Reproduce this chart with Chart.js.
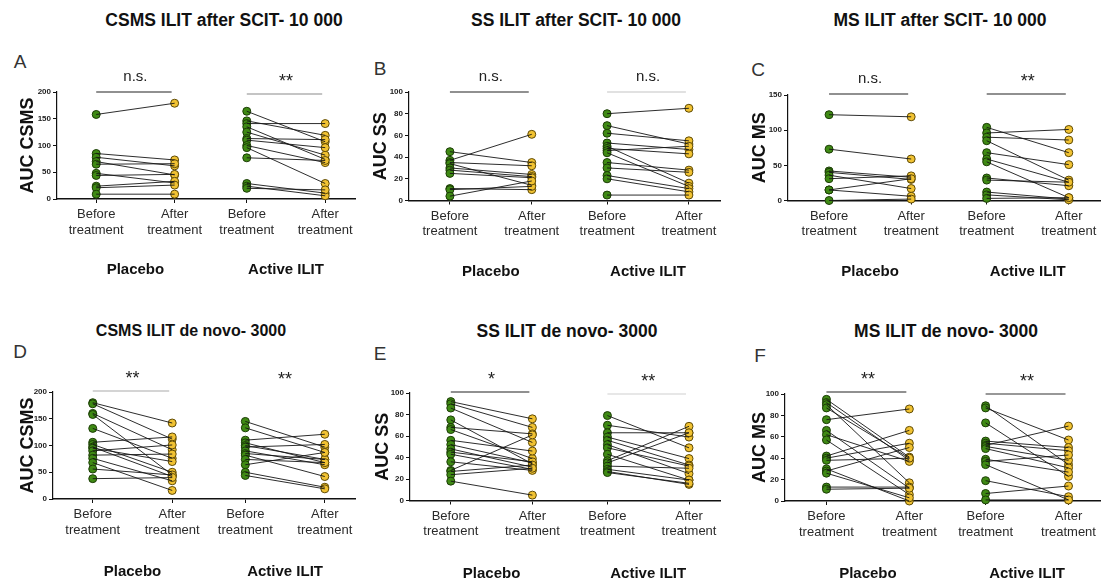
<!DOCTYPE html>
<html>
<head>
<meta charset="utf-8">
<script src="https://cdn.jsdelivr.net/npm/chart.js@4.4.1/dist/chart.umd.min.js"></script>
<style>
  body { margin:0; background:#fff; width:1104px; height:580px; position:relative; overflow:hidden;
         font-family:"Liberation Sans", Arial, sans-serif; }
  .title { position:absolute; font-weight:bold; font-size:17.5px; color:#111; transform:translate(-50%,-50%); white-space:nowrap; }
  .letter { position:absolute; font-size:19px; color:#333; transform:translate(-50%,-50%); }
  canvas { position:absolute; }
</style>
</head>
<body>
<div class="title" style="left:224px;top:20px">CSMS ILIT after SCIT- 10 000</div>
<div class="title" style="left:576px;top:20px">SS ILIT after SCIT- 10 000</div>
<div class="title" style="left:940px;top:20px">MS ILIT after SCIT- 10 000</div>
<div class="title" style="left:191px;top:331px;font-size:16px">CSMS ILIT de novo- 3000</div>
<div class="title" style="left:567px;top:331px">SS ILIT de novo- 3000</div>
<div class="title" style="left:946px;top:331px">MS ILIT de novo- 3000</div>
<div class="letter" style="left:20px;top:62px">A</div>
<div class="letter" style="left:380px;top:69px">B</div>
<div class="letter" style="left:758px;top:70px">C</div>
<div class="letter" style="left:20px;top:352px">D</div>
<div class="letter" style="left:380px;top:354px">E</div>
<div class="letter" style="left:760px;top:356px">F</div>

<script>
// Paired AUC values per patient: before / after treatment
const categories = [['Before', 'treatment'], ['After', 'treatment']];
const groups = ['Placebo', 'Active ILIT'];

// ILIT after SCIT, 10 000
const csmsScitPlaceboBefore = [158, 85, 78, 70, 65, 48, 44, 24, 21, 9];
const csmsScitPlaceboAfter  = [179, 73, 62, 45, 66, 30, 46, 33, 26, 9];
const csmsScitActiveBefore  = [164, 146, 141, 135, 125, 113, 110, 100, 96, 77, 29, 24, 20];
const csmsScitActiveAfter   = [107, 119, 141, 74, 82, 111, 96, 68, 29, 72, 11, 6, 17];

const ssScitPlaceboBefore = [45, 37, 35, 34, 30, 28, 25, 11, 10, 4];
const ssScitPlaceboAfter  = [35, 61, 32, 14, 24, 22, 21, 10, 13, 18];
const ssScitActiveBefore  = [80, 69, 62, 53, 50, 48, 46, 44, 35, 30, 23, 20, 5];
const ssScitActiveAfter   = [85, 52, 55, 47, 16, 43, 50, 13, 28, 26, 11, 8, 5];

const msScitPlaceboBefore = [122, 73, 42, 40, 36, 31, 15, 15, 0];
const msScitPlaceboAfter  = [119, 59, 33, 30, 17, 35, 6, 31, 2];
const msScitActiveBefore  = [104, 96, 90, 85, 68, 59, 55, 32, 29, 12, 8, 3];
const msScitActiveAfter   = [68, 101, 86, 29, 51, 26, 4, 21, 26, 2, 1, 4];

// ILIT de novo, 3000
const csmsNovoPlaceboBefore = [180, 178, 160, 158, 132, 106, 102, 97, 95, 90, 82, 76, 68, 56, 38];
const csmsNovoPlaceboAfter  = [142, 112, 92, 45, 76, 116, 50, 42, 70, 101, 84, 34, 16, 45, 40];
const csmsNovoActiveBefore  = [145, 133, 110, 105, 100, 97, 90, 85, 82, 74, 64, 50, 44];
const csmsNovoActiveAfter   = [97, 87, 121, 68, 74, 102, 64, 74, 42, 68, 87, 22, 19];

const ssNovoPlaceboBefore = [92, 90, 86, 75, 68, 66, 56, 52, 48, 45, 43, 36, 28, 27, 24, 18];
const ssNovoPlaceboAfter  = [76, 68, 54, 34, 62, 39, 46, 35, 31, 36, 29, 28, 61, 33, 30, 5];
const ssNovoActiveBefore  = [79, 70, 63, 59, 56, 52, 49, 43, 37, 35, 32, 29, 27, 26];
const ssNovoActiveAfter   = [49, 59, 63, 39, 33, 25, 32, 19, 69, 63, 30, 19, 15, 16];

const msNovoPlaceboBefore = [95, 92, 90, 87, 76, 66, 62, 57, 42, 40, 38, 30, 28, 26, 13, 11];
const msNovoPlaceboAfter  = [41, 38, 17, 40, 86, 12, 37, 6, 66, 54, 40, 0, 50, 3, 13, 12];
const msNovoActiveBefore  = [89, 87, 73, 56, 54, 52, 51, 49, 39, 37, 34, 19, 7, 1];
const msNovoActiveAfter   = [34, 57, 23, 50, 47, 70, 38, 31, 27, 43, 1, 4, 14, 1];

// Significance labels (placebo, active)
const sigCsmsScit = ['n.s.', '**'];
const sigSsScit   = ['n.s.', 'n.s.'];
const sigMsScit   = ['n.s.', '**'];
const sigCsmsNovo = ['**', '**'];
const sigSsNovo   = ['*', '**'];
const sigMsNovo   = ['**', '**'];

const FONT = '"Liberation Sans", Arial, sans-serif';
const GREEN = '#3f8a14', GREEN_EDGE = '#1c3d06';
const YELLOW = '#f1c232', YELLOW_EDGE = '#5e4a05';
// x positions of Before/After for the two groups
const XPOS = [0.5, 1.5, 2.42, 3.42];

const panels = [
  { left:13,  top:50,  height:250, axisX:57,  plotTop:92,  plotBottom:199,   plotRight:355,  yMax:200, yStep:50, yTitle:'AUC CSMS',
    series:[[csmsScitPlaceboBefore, csmsScitPlaceboAfter],[csmsScitActiveBefore, csmsScitActiveAfter]],
    sig:sigCsmsScit, sigStyle:[{dy:0,color:'#222'},{dy:2,color:'#8a8a8a'}] },
  { left:366, top:50,  height:250, axisX:409, plotTop:92,  plotBottom:200.5, plotRight:720,  yMax:100, yStep:20, yTitle:'AUC SS',
    series:[[ssScitPlaceboBefore, ssScitPlaceboAfter],[ssScitActiveBefore, ssScitActiveAfter]],
    sig:sigSsScit, sigStyle:[{dy:0,color:'#222'},{dy:0,color:'#c4c4c4'}] },
  { left:745, top:50,  height:250, axisX:788, plotTop:95,  plotBottom:200.5, plotRight:1100, yMax:150, yStep:50, yTitle:'AUC MS',
    series:[[msScitPlaceboBefore, msScitPlaceboAfter],[msScitActiveBefore, msScitActiveAfter]],
    sig:sigMsScit, sigStyle:[{dy:-1,color:'#222'},{dy:-1,color:'#222'}] },
  { left:13,  top:350, height:230, axisX:53,  plotTop:392, plotBottom:499,   plotRight:355,  yMax:200, yStep:50, yTitle:'AUC CSMS',
    series:[[csmsNovoPlaceboBefore, csmsNovoPlaceboAfter],[csmsNovoActiveBefore, csmsNovoActiveAfter]],
    sig:sigCsmsNovo, sigStyle:[{dy:-1,color:'#aaaaaa'},{dy:0,color:null}] },
  { left:368, top:350, height:230, axisX:410, plotTop:393, plotBottom:500.5, plotRight:720,  yMax:100, yStep:20, yTitle:'AUC SS',
    series:[[ssNovoPlaceboBefore, ssNovoPlaceboAfter],[ssNovoActiveBefore, ssNovoActiveAfter]],
    sig:sigSsNovo, sigStyle:[{dy:-1,color:'#222'},{dy:1,color:'#cfcfcf'}] },
  { left:745, top:350, height:230, axisX:785, plotTop:394, plotBottom:501,   plotRight:1100, yMax:100, yStep:20, yTitle:'AUC MS',
    series:[[msNovoPlaceboBefore, msNovoPlaceboAfter],[msNovoActiveBefore, msNovoActiveAfter]],
    sig:sigMsNovo, sigStyle:[{dy:-2,color:'#222'},{dy:0,color:'#333'}] }
];

// Draws group names under the axis and significance brackets above each pair
const pairAnnot = {
  id: 'pairAnnot',
  afterDraw(chart, args, opts) {
    const ctx = chart.ctx, xs = chart.scales.x, area = chart.chartArea;
    ctx.save();
    ctx.textAlign = 'center';
    ctx.textBaseline = 'middle';
    opts.groups.forEach((label, g) => {
      const x0 = xs.getPixelForValue(XPOS[2 * g]);
      const x1 = xs.getPixelForValue(XPOS[2 * g + 1]);
      ctx.font = 'bold 15px ' + FONT;
      ctx.fillStyle = '#111';
      ctx.fillText(label, (x0 + x1) / 2, area.bottom + opts.groupOffset);
      const st = opts.sigStyle[g];
      const y = area.top + st.dy;
      if (st.color) {
        ctx.strokeStyle = st.color;
        ctx.lineWidth = 1.2;
        ctx.beginPath();
        ctx.moveTo(x0, y);
        ctx.lineTo(x1 - 3, y);
        ctx.stroke();
      }
      const txt = opts.sig[g];
      const isStar = txt.indexOf('*') === 0;
      ctx.font = (isStar ? '18px ' : '15px ') + FONT;
      ctx.fillStyle = '#222';
      ctx.fillText(txt, (x0 + x1) / 2, y - (isStar ? 12 : 15));
    });
    ctx.restore();
  }
};

panels.forEach(p => {
  const canvas = document.createElement('canvas');
  const w = p.plotRight + 6 - p.left;
  canvas.width = w; canvas.height = p.height;
  canvas.style.left = p.left + 'px';
  canvas.style.top = p.top + 'px';
  canvas.style.width = w + 'px';
  canvas.style.height = p.height + 'px';
  document.body.appendChild(canvas);

  const datasets = [];
  p.series.forEach((pair, g) => {
    const [before, after] = pair;
    // connecting lines first so markers sit on top
    before.forEach((b, i) => {
      datasets.push({
        data: [{ x: XPOS[2 * g], y: b }, { x: XPOS[2 * g + 1], y: after[i] }],
        showLine: true, borderColor: '#151515', borderWidth: 0.9,
        pointRadius: 0, clip: false
      });
    });
  });
  p.series.forEach((pair, g) => {
    const [before, after] = pair;
    datasets.push({
      data: before.map(v => ({ x: XPOS[2 * g], y: v })),
      showLine: false, pointRadius: 4, pointBorderWidth: 1,
      pointBackgroundColor: GREEN, pointBorderColor: GREEN_EDGE, clip: false
    });
    datasets.push({
      data: after.map(v => ({ x: XPOS[2 * g + 1], y: v })),
      showLine: false, pointRadius: 4, pointBorderWidth: 1,
      pointBackgroundColor: YELLOW, pointBorderColor: YELLOW_EDGE, clip: false
    });
  });

  const yWidth = p.axisX - p.left;
  const xHeight = p.top + p.height - p.plotBottom;

  new Chart(canvas, {
    type: 'scatter',
    data: { datasets },
    plugins: [pairAnnot],
    options: {
      responsive: false, animation: false, devicePixelRatio: 1,
      layout: { padding: { top: p.plotTop - p.top, right: 6, left: 0, bottom: 0 } },
      plugins: {
        legend: { display: false }, tooltip: { enabled: false },
        pairAnnot: { groups, sig: p.sig, sigStyle: p.sigStyle, groupOffset: p.top < 300 ? 71 : 73 }
      },
      scales: {
        x: {
          type: 'linear', min: 0, max: 3.8,
          afterBuildTicks: s => { s.ticks = XPOS.map(v => ({ value: v })); },
          afterFit: s => { s.height = xHeight; },
          ticks: {
            autoSkip: false, maxRotation: 0, padding: 4,
            font: { family: FONT, size: 13 }, color: '#2a2a2a',
            callback: v => categories[XPOS.indexOf(v) % 2]
          },
          grid: { drawOnChartArea: false, color: '#111', tickLength: 4, lineWidth: 1 },
          border: { color: '#111', width: 1.6 }
        },
        y: {
          min: 0, max: p.yMax,
          afterFit: s => { s.width = yWidth; },
          ticks: { stepSize: p.yStep, padding: 2, font: { family: FONT, size: 8, weight: 'bold' }, color: '#222' },
          grid: { drawOnChartArea: false, color: '#111', tickLength: 4, lineWidth: 1 },
          border: { color: '#111', width: 1.2 },
          title: { display: true, text: p.yTitle, padding: { top: 4, bottom: 4 },
                   font: { family: FONT, size: 18, weight: 'bold' }, color: '#111' }
        }
      }
    }
  });
});
</script>
</body>
</html>
